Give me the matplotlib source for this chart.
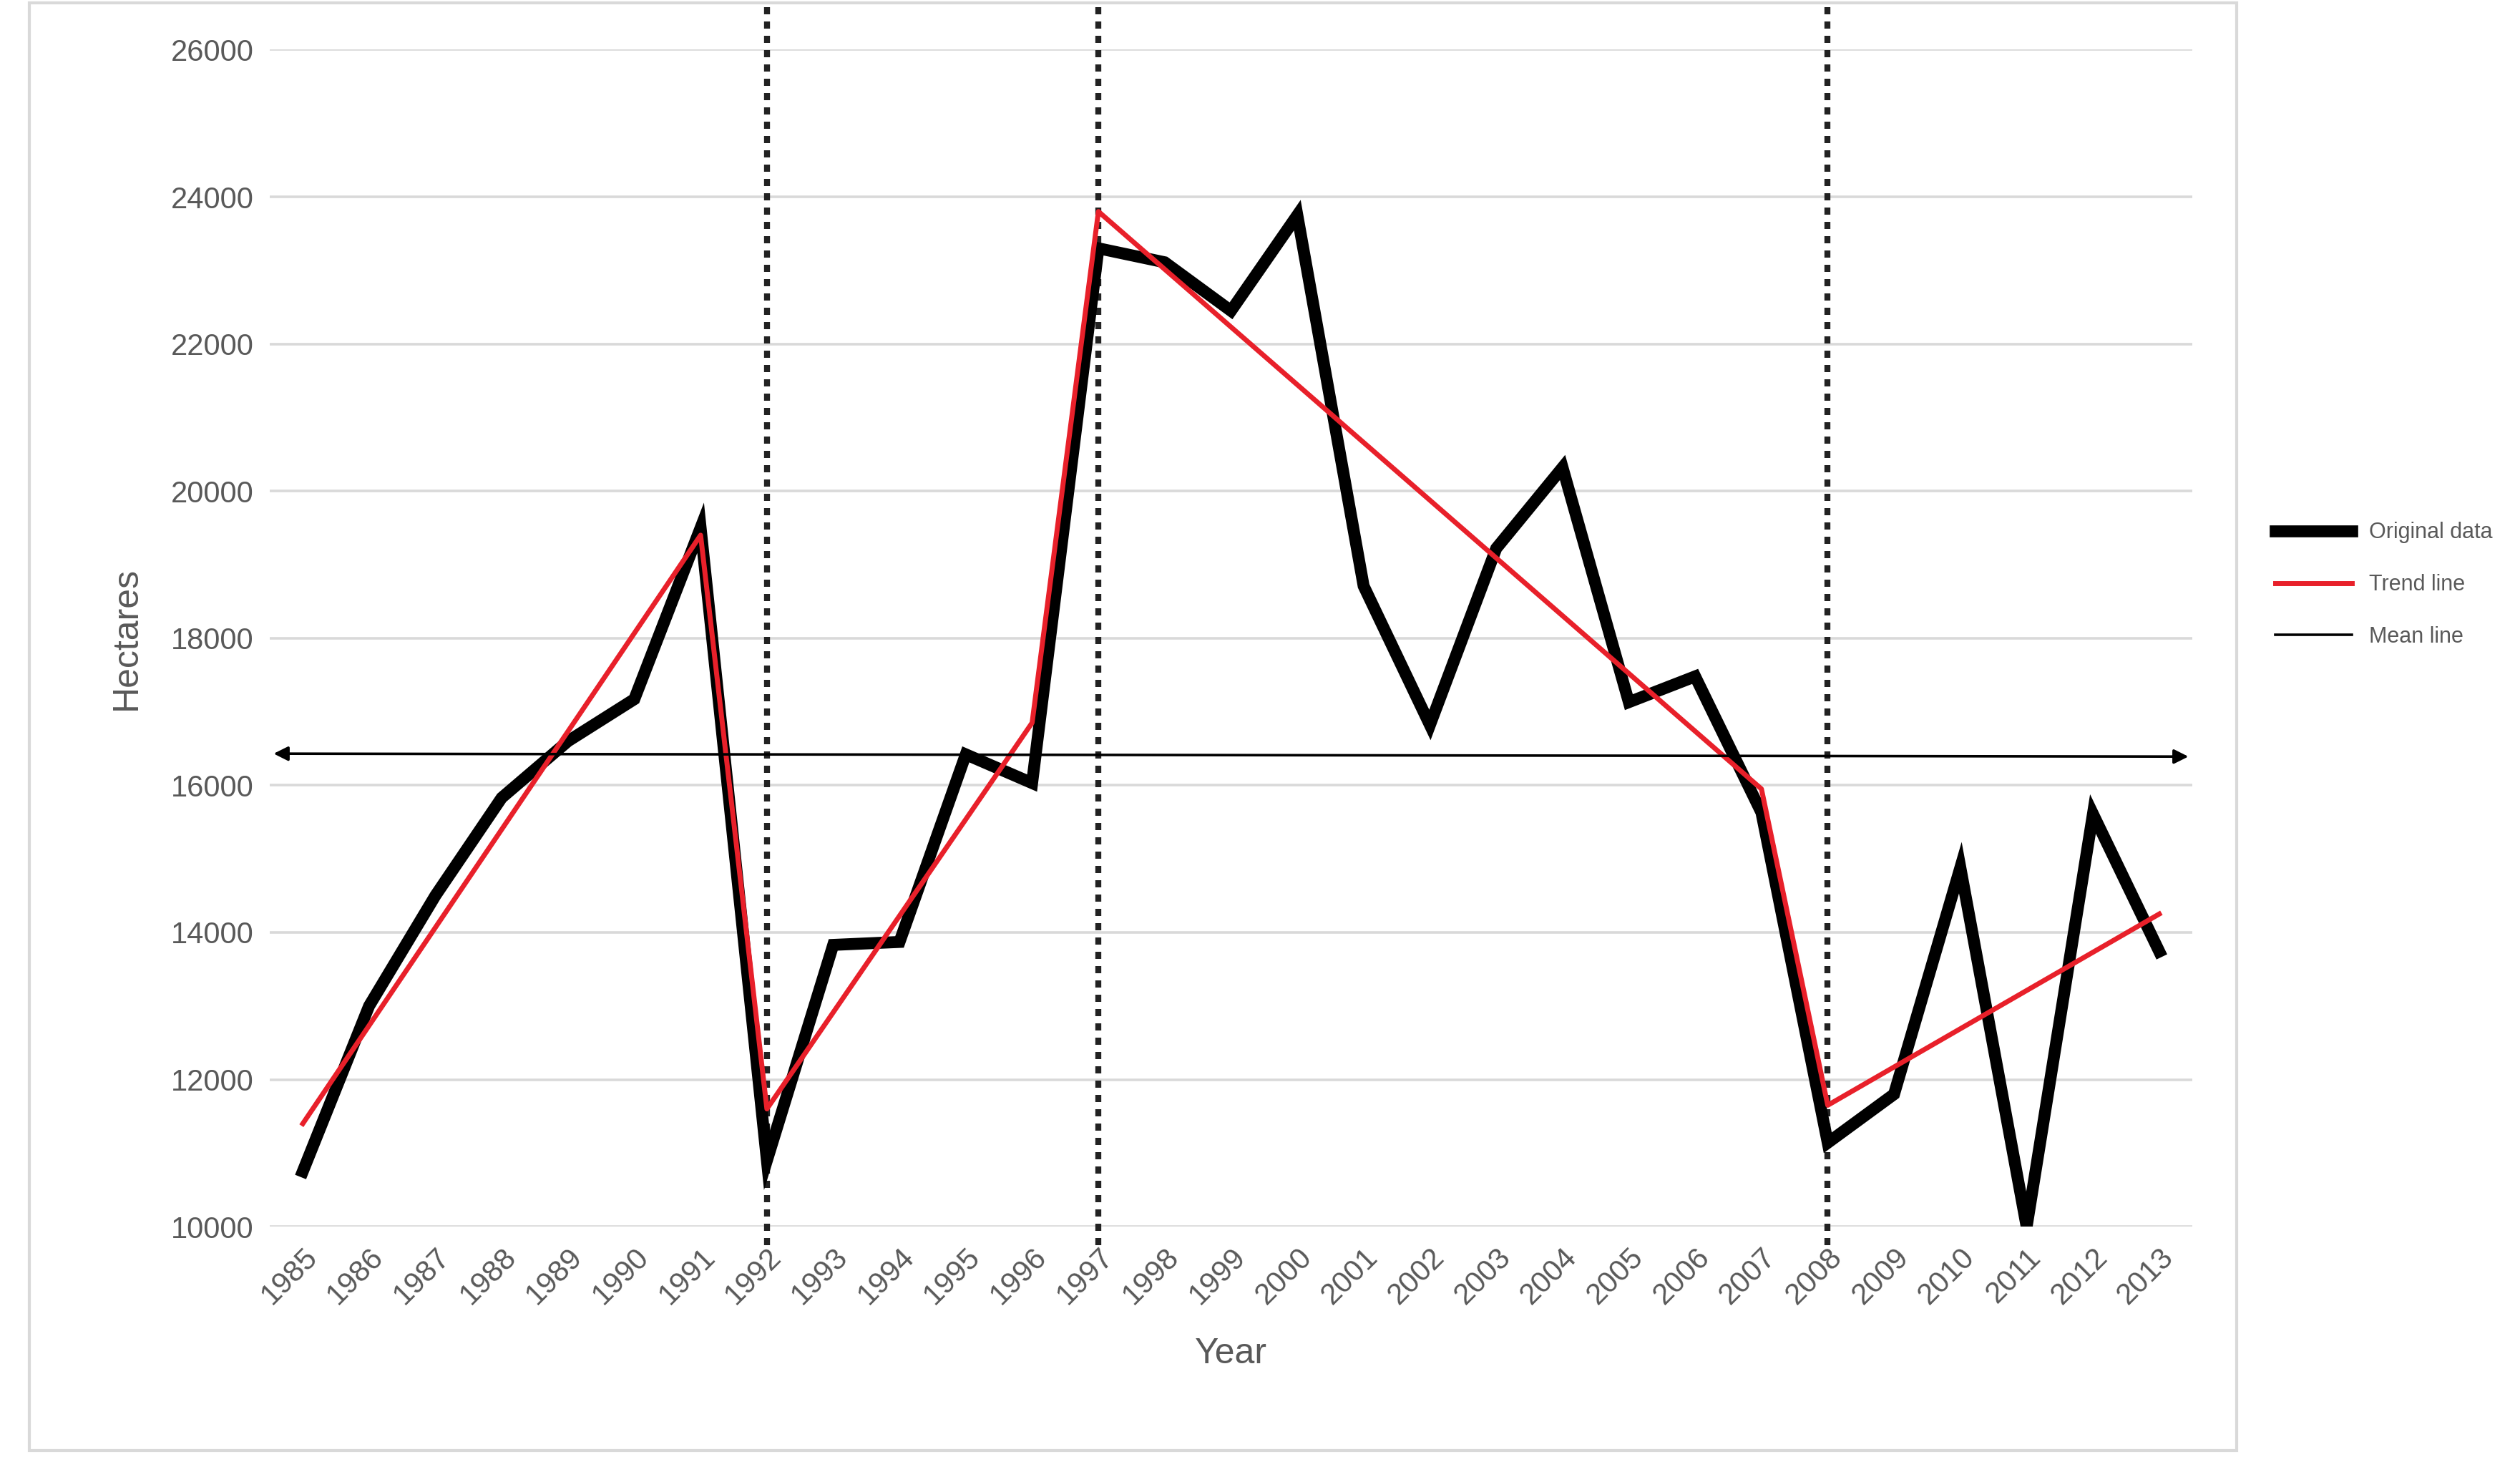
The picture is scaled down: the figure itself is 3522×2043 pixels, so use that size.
import matplotlib
matplotlib.use("Agg")
import matplotlib.pyplot as plt
from matplotlib.lines import Line2D
from matplotlib.patches import Rectangle

plt.rcParams['font.family'] = ['Liberation Sans', 'DejaVu Sans']

years = list(range(1985, 2014))
hectares = [10750, 13000, 14500, 15830, 16600, 17170, 19500, 10900, 13830, 13870,
            16420, 16030, 23300, 23110, 22450, 23750, 18710, 16820, 19220, 20320,
            17130, 17480, 15630, 11140, 11800, 14880, 10000, 15610, 13740]
trend_years = [1985, 1991, 1992, 1996, 1997, 2007, 2008, 2013]
trend_vals = [11400, 19400, 11600, 16850, 23800, 15950, 11650, 14250]
mean_x = [1984.5, 2013.5]
mean_y = [16430, 16390]
breaks = [1992, 1997, 2008]
yticks = list(range(10000, 26001, 2000))

fig = plt.figure(figsize=(17.61, 10.215), dpi=200)
fig.patches.append(Rectangle((0.0115, 0.008), 0.876, 0.99, transform=fig.transFigure,
                             fill=False, edgecolor="#d9d9d9", linewidth=1.5))
ax = fig.add_axes([0.107, 0.161, 0.763, 0.805])
gray = "#595959"
for y in yticks:
    ax.axhline(y, color="#d9d9d9", linewidth=1.3, zorder=0)
ax.plot(years, hectares, color="black", linewidth=6, zorder=3, solid_joinstyle="miter")
ax.plot(trend_years, trend_vals, color="#e8202a", linewidth=2.5, zorder=4)
ax.annotate("", xy=(mean_x[1], mean_y[1]), xytext=(mean_x[0], mean_y[0]),
            arrowprops=dict(arrowstyle="<|-|>", color="black", lw=1.3, mutation_scale=15), zorder=5)
for b in breaks:
    ax.plot([b, b], [9750, 26600], color="#222222", linestyle=(0, (1.2, 1.2)), linewidth=3,
            clip_on=False, zorder=2)
ax.set_xlim(1984.5, 2013.5)
ax.set_ylim(10000, 26000)
ax.set_xticks(years)
ax.set_xticklabels([str(y) for y in years], rotation=45, ha="right", rotation_mode="anchor")
ax.set_yticks(yticks)
ax.tick_params(axis="both", length=0, labelsize=15, colors=gray, pad=8)
for s in ax.spines.values():
    s.set_visible(False)
ax.set_xlabel("Year", fontsize=18, color=gray, labelpad=14)
ax.set_ylabel("Hectares", fontsize=18, color=gray, labelpad=14)

handles = [Line2D([], [], color="black", linewidth=6),
           Line2D([], [], color="#e8202a", linewidth=2.5),
           Line2D([], [], color="black", linewidth=1.3)]
leg = fig.legend(handles, ["Original data", "Trend line", "Mean line"],
                 loc="center left", bbox_to_anchor=(0.895, 0.6), frameon=False,
                 fontsize=11, labelcolor=gray, handlelength=3.5, labelspacing=1.4)
fig.savefig("out.png", dpi=200)
